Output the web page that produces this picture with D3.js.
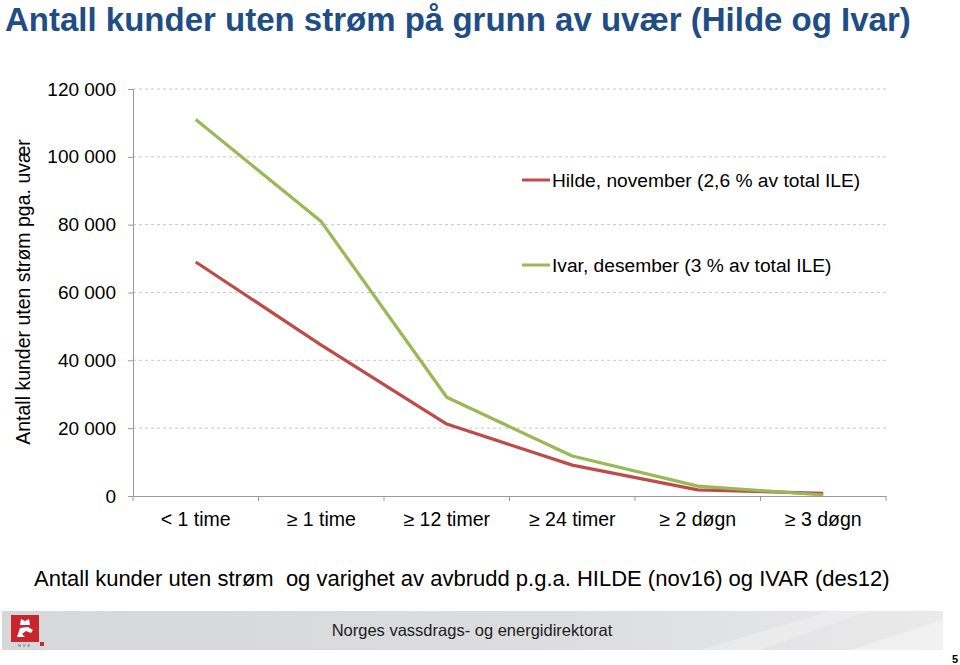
<!DOCTYPE html>
<html><head><meta charset="utf-8">
<script src="https://cdn.jsdelivr.net/npm/d3@7/dist/d3.min.js"></script>
<style>body{margin:0;background:#fff;}svg{display:block;font-family:Arial,"Liberation Sans",sans-serif;}</style>
</head><body>
<svg id="c" width="960" height="665"></svg>
<script>
const categories = ["< 1 time", "≥ 1 time", "≥ 12 timer", "≥ 24 timer", "≥ 2 døgn", "≥ 3 døgn"];
const hildeValues = [69000, 44500, 21200, 9100, 1800, 800];
const ivarValues = [111000, 80900, 29100, 11800, 2900, 300];
const yTicks = [0, 20000, 40000, 60000, 80000, 100000, 120000];
const seriesNames = ["Hilde, november (2,6 % av total ILE)", "Ivar, desember (3 % av total ILE)"];
const seriesColors = ["#BE4B48", "#98B954"];

const svg = d3.select("#c");
const pLeft = 133, pRight = 886, pTop = 89, pBottom = 496;

// title
svg.append("text").attr("x", 5).attr("y", 31).attr("font-size", 33).attr("font-weight", "bold")
  .attr("fill", "#1F4E86").text("Antall kunder uten strøm på grunn av uvær (Hilde og Ivar)");

const x = d3.scaleBand().domain(categories).range([pLeft, pRight]);
const y = d3.scaleLinear().domain([0, 120000]).range([pBottom, pTop]);

// gridlines
svg.append("g").selectAll("line").data(yTicks.filter(d => d > 0)).join("line")
  .attr("x1", pLeft).attr("x2", pRight).attr("y1", d => y(d)).attr("y2", d => y(d))
  .attr("stroke", "#c8c8c8").attr("stroke-width", 1).attr("stroke-dasharray", "3,3");

// y axis
const fmt = d => d3.format(",")(d).replace(/,/g, " ");
const yAxis = svg.append("g").attr("transform", `translate(${pLeft},0)`)
  .call(d3.axisLeft(y).tickValues(yTicks).tickFormat(fmt).tickSize(5).tickPadding(12));
yAxis.select(".domain").attr("stroke", "#999");
yAxis.selectAll(".tick line").attr("stroke", "#999");
yAxis.selectAll("text").attr("font-size", 19).attr("fill", "#000").attr("font-family", "Arial, Liberation Sans, sans-serif");

// x axis
const xAxis = svg.append("g").attr("transform", `translate(0,${pBottom})`)
  .call(d3.axisBottom(x).tickSize(0).tickPadding(16));
xAxis.select(".domain").attr("stroke", "#999");
xAxis.selectAll("text").attr("font-size", 19.5).attr("fill", "#000").attr("font-family", "Arial, Liberation Sans, sans-serif");
const bounds = categories.map(c => x(c)).concat([pRight]);
xAxis.append("g").selectAll("line").data(bounds).join("line")
  .attr("x1", d => d).attr("x2", d => d).attr("y1", 0).attr("y2", 5).attr("stroke", "#999");

// y axis title
svg.append("text").attr("transform", "translate(30,292) rotate(-90)").attr("text-anchor", "middle")
  .attr("font-size", 19.5).attr("fill", "#000").text("Antall kunder uten strøm pga. uvær");

// lines
const line = d3.line().x((d, i) => x(categories[i]) + x.bandwidth() / 2).y(d => y(d));
[hildeValues, ivarValues].forEach((vals, i) => {
  svg.append("path").datum(vals).attr("d", line).attr("fill", "none")
    .attr("stroke", seriesColors[i]).attr("stroke-width", 3.2).attr("stroke-linejoin", "round");
});

// legend
const legY = [180, 265];
seriesNames.forEach((n, i) => {
  svg.append("line").attr("x1", 522).attr("x2", 550).attr("y1", legY[i]).attr("y2", legY[i])
    .attr("stroke", seriesColors[i]).attr("stroke-width", 3);
  svg.append("text").attr("x", 552).attr("y", legY[i] + 7).attr("font-size", 19.2).attr("fill", "#000").text(n);
});

// caption
svg.append("text").attr("x", 34).attr("y", 586).attr("font-size", 22).attr("fill", "#000")
  .style("white-space", "pre").text("Antall kunder uten strøm  og varighet av avbrudd p.g.a. HILDE (nov16) og IVAR (des12)");

// footer
const defs = svg.append("defs");
const gr = defs.append("linearGradient").attr("id", "fg").attr("x1", "0").attr("x2", "1").attr("y1", "0").attr("y2", "0");
gr.append("stop").attr("offset", "0").attr("stop-color", "#d6d7d8");
gr.append("stop").attr("offset", "0.6").attr("stop-color", "#dcdddf");
gr.append("stop").attr("offset", "1").attr("stop-color", "#eaeaeb");
svg.append("rect").attr("x", 2).attr("y", 611).attr("width", 941).attr("height", 39).attr("fill", "url(#fg)");
svg.append("path").attr("d", "M700,650 L830,611 L870,611 L760,650 Z").attr("fill", "#ffffff").attr("opacity", 0.25);
svg.append("path").attr("d", "M850,650 L943,620 L943,650 Z").attr("fill", "#ffffff").attr("opacity", 0.35);
svg.append("rect").attr("x", 11).attr("y", 615).attr("width", 28).attr("height", 27).attr("fill", "#C8262E");
svg.append("rect").attr("x", 40).attr("y", 642).attr("width", 4).attr("height", 4).attr("fill", "#C8262E");
svg.append("path").attr("d", "M17,637 L20,628 L28,627 L33,630 L31,633 L26,631 L22,634 L25,637 Z").attr("fill", "#fff");
svg.append("path").attr("d", "M20,625 L21,619 L25,621 L29,619 L30,625 Z").attr("fill", "#fff");
svg.append("text").attr("x", 25).attr("y", 647).attr("text-anchor", "middle").attr("font-size", 4)
  .attr("fill", "#555").attr("letter-spacing", 2).text("NVE");
svg.append("text").attr("x", 472).attr("y", 636).attr("text-anchor", "middle").attr("font-size", 16.5)
  .attr("fill", "#222").text("Norges vassdrags- og energidirektorat");
svg.append("text").attr("x", 952).attr("y", 663).attr("font-size", 11).attr("font-weight", "bold").attr("fill", "#000").text("5");
</script>
</body></html>
